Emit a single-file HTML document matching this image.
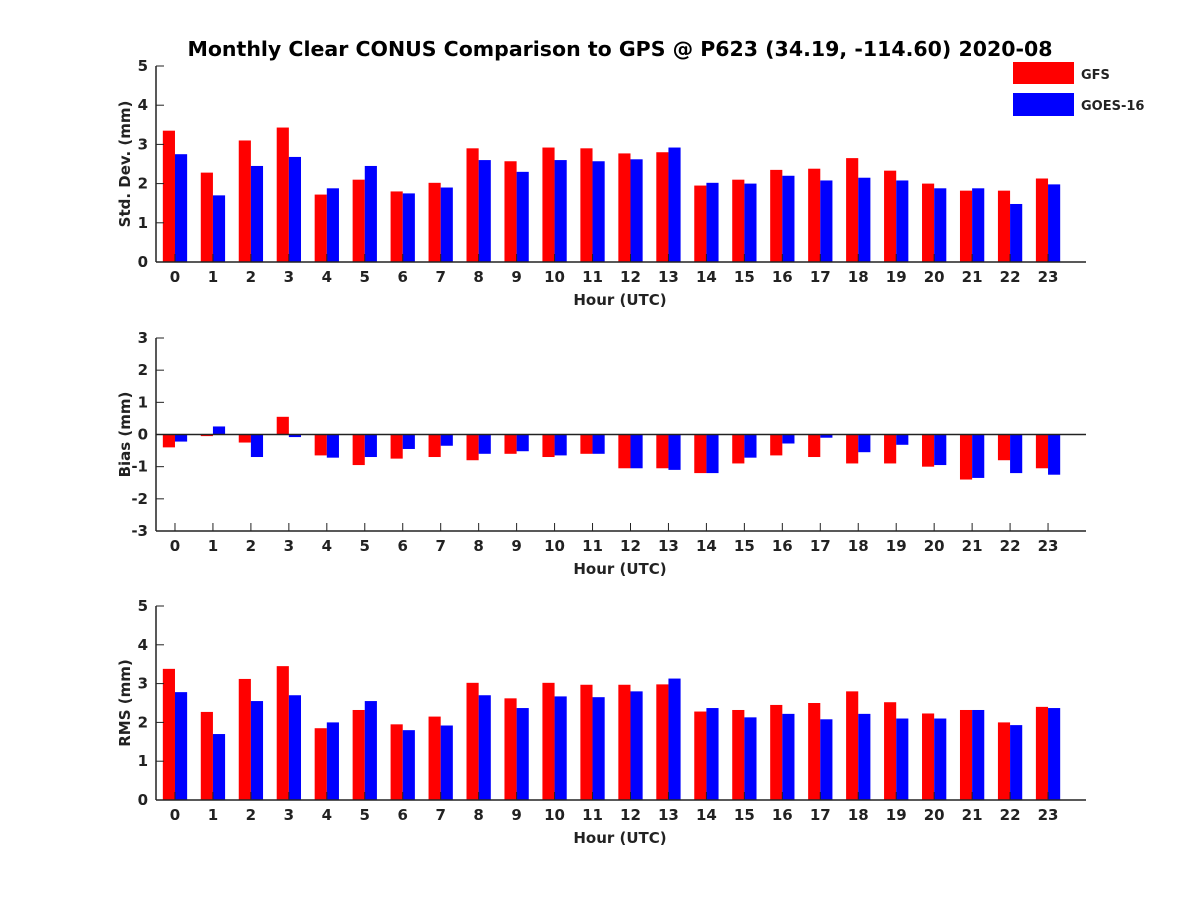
<!DOCTYPE html>
<html><head><meta charset="utf-8"><style>
body{margin:0;background:#fff;}
svg text{font-family:"DejaVu Sans","Liberation Sans",sans-serif;font-weight:bold;fill:#222;}
</style></head><body>
<svg id="c" width="1200" height="900" xmlns="http://www.w3.org/2000/svg">
<rect width="1200" height="900" fill="#fff"/>
<text x="620" y="56" font-size="20.5" text-anchor="middle" style="fill:#000">Monthly Clear CONUS Comparison to GPS @ P623 (34.19, -114.60) 2020-08</text>
<g>
<rect x="1013" y="62" width="61" height="22" fill="#ff0000"/>
<text x="1081" y="79" font-size="13">GFS</text>
<rect x="1013" y="93" width="61" height="23" fill="#0000ff"/>
<text x="1081" y="110" font-size="13">GOES-16</text>
</g>
</svg>
<script>
const hours=[0,1,2,3,4,5,6,7,8,9,10,11,12,13,14,15,16,17,18,19,20,21,22,23];
const stdGFS=[3.35,2.28,3.1,3.43,1.72,2.1,1.8,2.02,2.9,2.57,2.92,2.9,2.77,2.8,1.95,2.1,2.35,2.38,2.65,2.33,2.0,1.82,1.82,2.13];
const stdGOES=[2.75,1.7,2.45,2.68,1.88,2.45,1.75,1.9,2.6,2.3,2.6,2.57,2.62,2.92,2.02,2.0,2.2,2.08,2.15,2.08,1.88,1.88,1.48,1.98];
const biasGFS=[-0.4,-0.05,-0.25,0.55,-0.65,-0.95,-0.75,-0.7,-0.8,-0.6,-0.7,-0.6,-1.05,-1.05,-1.2,-0.9,-0.65,-0.7,-0.9,-0.9,-1.0,-1.4,-0.8,-1.05];
const biasGOES=[-0.22,0.25,-0.7,-0.08,-0.72,-0.7,-0.45,-0.35,-0.6,-0.52,-0.65,-0.6,-1.05,-1.1,-1.2,-0.72,-0.28,-0.1,-0.55,-0.32,-0.95,-1.35,-1.2,-1.25];
const rmsGFS=[3.38,2.27,3.12,3.45,1.85,2.32,1.95,2.15,3.02,2.62,3.02,2.97,2.97,2.98,2.28,2.32,2.45,2.5,2.8,2.52,2.23,2.32,2.0,2.4];
const rmsGOES=[2.78,1.7,2.55,2.7,2.0,2.55,1.8,1.92,2.7,2.37,2.67,2.65,2.8,3.13,2.37,2.13,2.22,2.08,2.22,2.1,2.1,2.32,1.93,2.37];
const stdTicks=[0,1,2,3,4,5];
const biasTicks=[-3,-2,-1,0,1,2,3];
const rmsTicks=[0,1,2,3,4,5];

const svg=document.getElementById('c');
const NS='http://www.w3.org/2000/svg';
function mk(tag,attrs,parent){const e=document.createElementNS(NS,tag);for(const k in attrs)e.setAttribute(k,attrs[k]);(parent||svg).appendChild(e);return e;}
const X0=156,X1=1086,XMIN=-0.5,XMAX=24;
function xs(v){return X0+(v-XMIN)/(XMAX-XMIN)*(X1-X0);}
function panel(name,top,bot,ymin,ymax,ticks,gfs,goes,ylabel){
  const g=mk('g',{});
  
  
  const ys=v=>bot-(v-ymin)/(ymax-ymin)*(bot-top);
  const bw=(xs(1)-xs(0))*0.32;
  hours.forEach((h,i)=>{
    const y0=ys(Math.max(0,ymin)), yr=ys(gfs[i]), yb=ys(goes[i]);
    const r=mk('rect',{x:xs(h)-bw,y:Math.min(y0,yr),width:bw,height:Math.abs(y0-yr),fill:'#ff0000'},g);
    
    
    const b=mk('rect',{x:xs(h),y:Math.min(y0,yb),width:bw,height:Math.abs(y0-yb),fill:'#0000ff'},g);
    
    
    mk('line',{x1:xs(h),x2:xs(h),y1:bot,y2:bot-8,stroke:'#222','stroke-width':1},g);
    const t=mk('text',{x:xs(h),y:bot+20,'font-size':15,'text-anchor':'middle'},g);
    t.textContent=h;
    
    
  });
  ticks.forEach(v=>{
    mk('line',{x1:X0,x2:X0+8,y1:ys(v),y2:ys(v),stroke:'#222','stroke-width':1},g);
    const t=mk('text',{x:148,y:ys(v)+5,'font-size':15,'text-anchor':'end'},g);
    t.textContent=v;
    
    
  });
  mk('line',{x1:X0,x2:X0,y1:top,y2:bot,stroke:'#222','stroke-width':1.5},g);
  mk('line',{x1:X0,x2:X1,y1:bot,y2:bot,stroke:'#222','stroke-width':1.5},g);
  if(ymin<0) mk('line',{x1:X0,x2:X1,y1:ys(0),y2:ys(0),stroke:'#222','stroke-width':1.5},g);
  const xl=mk('text',{x:620,y:bot+43,'font-size':15,'text-anchor':'middle'},g);
  xl.textContent='Hour (UTC)';
  
  
  const cy=(top+bot)/2;
  const yl=mk('text',{x:130,y:cy,'font-size':15,'text-anchor':'middle',transform:'rotate(-90 130 '+cy+')'},g);
  yl.textContent=ylabel;
  
  
}
panel('std',66,262,0,5,stdTicks,stdGFS,stdGOES,'Std. Dev. (mm)');
panel('bias',338,531,-3,3,biasTicks,biasGFS,biasGOES,'Bias (mm)');
panel('rms',606,800,0,5,rmsTicks,rmsGFS,rmsGOES,'RMS (mm)');
</script>
</body></html>
